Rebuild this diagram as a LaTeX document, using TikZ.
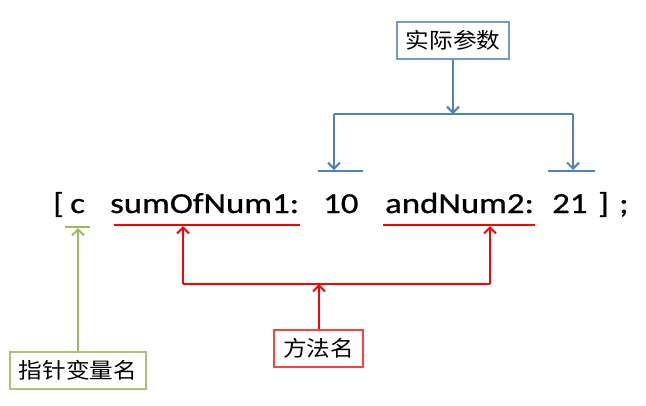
\documentclass[tikz,border=0pt]{standalone}
\usepackage{fontspec}
\usetikzlibrary{arrows.meta}
\newfontfamily\codefont{Carlito}[FakeStretch=1.2,FakeBold=0.8]
\newfontfamily\cjk{Noto Sans CJK SC}[FakeStretch=1.1]
\definecolor{bblue}{HTML}{4F81BD}
\definecolor{rred}{HTML}{FF0000}
\definecolor{ggreen}{HTML}{9BBB59}
\tikzset{
  code/.style={anchor=base west,inner sep=0pt,font=\codefont\fontsize{29}{29}\selectfont},
  label/.style={draw,line width=1.3pt,fill=white,inner sep=0pt,font=\cjk\fontsize{21.5}{21.5}\selectfont},
  conn/.style={line width=2.6pt},
  arr/.style={conn,-{Straight Barb[length=6pt,width=12pt,line width=2pt]}},
}
\begin{document}
\begin{tikzpicture}[x=1pt,y=-1pt]
\useasboundingbox (0,0) rectangle (646,405);
% code text
\node[code] (lb) at (53,213) {[};
\node[code] (c) at (70,213) {c};
\node[code] (m1) at (110,213) {sumOfNum1:};
\node[code] (v1) at (323,213) {10};
\node[code] (m2) at (385,213) {andNum2:};
\node[code] (v2) at (552,213) {21};
\node[code] (rb) at (598,213) {]};
\node[code] (sc) at (619,213) {;};
% boxes
\node[label,draw=bblue!80,minimum width=112pt,minimum height=37pt] (args) at (453,40.5) {实际参数};
\node[label,draw=rred!75,minimum width=89pt,minimum height=37pt] (meth) at (318.5,348.5) {方法名};
\node[label,draw=ggreen!85,minimum width=136pt,minimum height=37pt] (ptr) at (78,370.5) {指针变量名};
% blue
\coordinate (bj) at (453,114);
\coordinate (bl) at (334,114);
\coordinate (br) at (573,114);
\coordinate (blt) at (334,170);
\coordinate (brt) at (573,170);
\coordinate (bb1a) at (318,171);
\coordinate (bb1b) at (363,171);
\coordinate (bb2a) at (548,171);
\coordinate (bb2b) at (595,171);
\draw[arr,bblue] (args.south) -- (bj);
\draw[conn,bblue] (blt |- bl) -- (br);
\draw[arr,bblue] (bl) -- (blt);
\draw[arr,bblue] (br) -- (brt);
\draw[conn,bblue] (bb1a) -- (bb1b);
\draw[conn,bblue] (bb2a) -- (bb2b);
% red
\coordinate (ru1a) at (114,225);
\coordinate (ru1b) at (300,225);
\coordinate (ru2a) at (383,225);
\coordinate (ru2b) at (535,225);
\coordinate (rl) at (183,284);
\coordinate (rr) at (490,284);
\coordinate (rlt) at (183,226);
\coordinate (rrt) at (490,226);
\coordinate (rj) at (319,284);
\draw[conn,rred] (ru1a) -- (ru1b);
\draw[conn,rred] (ru2a) -- (ru2b);
\draw[conn,rred] (rl) -- (rr);
\draw[arr,rred] (rl) -- (rlt);
\draw[arr,rred] (rr) -- (rrt);
\draw[arr,rred] (meth.north -| rj) -- (rj);
% green
\coordinate (ga) at (65,227);
\coordinate (gb) at (90,227);
\coordinate (gt) at (78,228);
\draw[conn,ggreen] (ga) -- (gb);
\draw[arr,ggreen] (ptr.north) -- (gt);
\end{tikzpicture}
\end{document}
